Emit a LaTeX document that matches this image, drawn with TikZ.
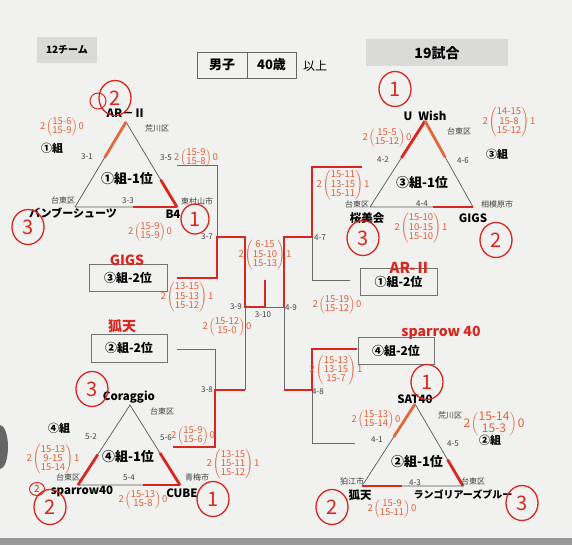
\documentclass[tikz,border=0pt]{standalone}
\usepackage{fontspec}
\setmainfont{Noto Sans CJK JP}
\usetikzlibrary{calc,shapes.geometric}
\definecolor{paper}{HTML}{F1F1EF}
\definecolor{inkred}{HTML}{D9261E}
\definecolor{inkor}{HTML}{E2673A}
\definecolor{pen}{HTML}{E2603A}
\definecolor{lgray}{HTML}{6A6A6A}
\definecolor{hdr}{HTML}{DADAD9}
\newcommand{\scorenote}[3]{#1\hspace{1pt}$\left(\vcenter{\hbox{\def\arraystretch{0.8}\begin{tabular}{@{}c@{}}#2\end{tabular}}}\right)$\hspace{1pt}#3}
\tikzset{
  lbl/.style={font=\fontsize{8}{9}\selectfont, text=black!75, inner sep=0},
  tname/.style={font=\fontsize{11.5}{13}\selectfont\bfseries, inner sep=0},
  grp/.style={font=\fontsize{11}{13}\selectfont\bfseries, inner sep=0},
  rank/.style={font=\fontsize{13}{15}\selectfont\bfseries, inner sep=0},
  rbox/.style={draw=black!55, line width=0.8pt, minimum height=27, inner sep=0, font=\fontsize{12}{14}\selectfont\bfseries},
  hbox/.style={fill=hdr, inner sep=0, font=\fontsize{10}{12}\selectfont\bfseries},
  tri/.style={draw=black!65, line width=0.7pt},
  gline/.style={draw=lgray, line width=0.7pt},
  win/.style={draw=inkred, line width=2.8pt},
  wino/.style={draw=inkor, line width=2.8pt},
  note/.style={text=pen, font=\fontsize{9.5}{10}\selectfont, inner sep=0},
  rk/.style={draw=inkred, line width=1.3pt, ellipse, minimum width=32, minimum height=35, inner sep=0, text=inkred, font=\fontsize{20}{20}\selectfont},
  hand/.style={text=inkred, font=\fontsize{14}{16}\selectfont\bfseries, inner sep=0}
}
\begin{document}
\begin{tikzpicture}[x=1pt,y=-1pt]
\fill[paper] (0,0) rectangle (572,545);
\useasboundingbox (0,0) rectangle (572,545);
\fill[black!40] (0,538) rectangle (572,545);
\fill[black!60] (0,447) ellipse [x radius=8, y radius=22];

% header
\node[hbox, minimum width=60, minimum height=26] (teams) at (67,50) {12チーム};
\node[hbox, minimum width=142, minimum height=27, font=\fontsize{14}{16}\selectfont\bfseries] (games) at (437,53) {19試合};
\node[draw=black!60, line width=0.8pt, minimum width=50, minimum height=26, inner sep=0, font=\fontsize{13}{15}\selectfont\bfseries] (sex) at (222,65) {男子};
\node[draw=black!60, line width=0.8pt, minimum width=49, minimum height=26, inner sep=0, font=\fontsize{13}{15}\selectfont\bfseries] (age) at (271.5,65) {40歳};
\node[font=\fontsize{12}{14}\selectfont, inner sep=0] (ijo) at (315,66) {以上};

% triangle vertices
\coordinate (g1a) at (126,122); \coordinate (g1l) at (75,207); \coordinate (g1r) at (177,207);
\coordinate (g3a) at (425,121); \coordinate (g3l) at (370,207); \coordinate (g3r) at (473,207);
\coordinate (g4a) at (130,405); \coordinate (g4l) at (78,485); \coordinate (g4r) at (180,485);
\coordinate (g2a) at (415,404); \coordinate (g2l) at (362,486); \coordinate (g2r) at (463,486);
\draw[tri] (g1a) -- (g1l) -- (g1r) -- cycle;
\draw[tri] (g3a) -- (g3l) -- (g3r) -- cycle;
\draw[tri] (g4a) -- (g4l) -- (g4r) -- cycle;
\draw[tri] (g2a) -- (g2l) -- (g2r) -- cycle;

% winner marks on triangles
\draw[wino] (g1a) -- ($(g1a)!0.42!(g1l)$);
\draw[win] ($(g1a)!0.68!(g1r)$) -- (g1r);
\draw[win] ($(g1l)!0.57!(g1r)$) -- (g1r);
\draw[win] (g3a) -- ($(g3a)!0.43!(g3l)$);
\draw[wino] (g3a) -- ($(g3a)!0.42!(g3r)$);
\draw[win] ($(g3l)!0.61!(g3r)$) -- (g3r);
\draw[win] ($(g4a)!0.62!(g4l)$) -- (g4l);
\draw[win] ($(g4a)!0.6!(g4r)$) -- (g4r);
\draw[win] ($(g4l)!0.64!(g4r)$) -- (g4r);
\draw[wino] (g2a) -- ($(g2a)!0.4!(g2l)$);
\draw[win] ($(g2a)!0.68!(g2r)$) -- (g2r);
\draw[win] (g2l) -- ($(g2l)!0.4!(g2r)$);

% group 1 labels
\node[tname] (n1a) at (126,113) {AR－Ⅱ};
\node[lbl] (a1) at (157,128) {荒川区};
\node[grp] (grp1) at (52,148) {①組};
\node[lbl] (m31) at (87,157) {3-1};
\node[lbl] (m35) at (166,158) {3-5};
\node[rank] (r1) at (127,179) {①組-1位};
\node[lbl] (b1l) at (63,200) {台東区};
\node[lbl] (m33) at (128,201) {3-3};
\node[lbl] (b1r) at (197,201) {東村山市};
\node[tname, font=\fontsize{11}{13}\selectfont\bfseries] (n1l) at (73,213) {バンブーシューツ};
\node[tname] (n1r) at (173,214) {B4};

% group 3 labels
\node[tname] (n3a) at (425,116) {U\hspace{6pt}Wish};
\node[lbl] (a3) at (459,131) {台東区};
\node[lbl] (m42) at (383,160) {4-2};
\node[lbl] (m46) at (463,161) {4-6};
\node[grp] (grp3) at (497,154) {③組};
\node[rank] (r3) at (422,183) {③組-1位};
\node[lbl] (b3l) at (357,204) {台東区};
\node[lbl] (m44) at (422,204) {4-4};
\node[lbl] (b3r) at (497,204) {相模原市};
\node[tname] (n3l) at (367,218) {桜美会};
\node[tname] (n3r) at (473,218) {GIGS};

% group 4 labels
\node[tname] (n4a) at (129,397) {Coraggio};
\node[lbl] (a4) at (162,411) {台東区};
\node[grp] (grp4) at (59,428) {④組};
\node[lbl] (m52) at (91,437) {5-2};
\node[lbl] (m56) at (166,438) {5-6};
\node[rank] (r4) at (128,457) {④組-1位};
\node[lbl] (b4l) at (68,477) {台東区};
\node[lbl] (m54) at (129,478) {5-4};
\node[lbl] (b4r) at (197,477) {青梅市};
\node[tname] (n4l) at (82,491) {sparrow40};
\node[tname] (n4r) at (182,493) {CUBE};

% group 2 labels
\node[tname] (n2a) at (415,399) {SAT40};
\node[lbl] (a2) at (450,415) {荒川区};
\node[lbl] (m41) at (377,440) {4-1};
\node[lbl] (m45) at (453,444) {4-5};
\node[grp] (grp2) at (490,440) {②組};
\node[rank] (r2) at (417,462) {②組-1位};
\node[lbl] (b2l) at (352,481) {狛江市};
\node[lbl] (m43) at (415,483) {4-3};
\node[lbl] (b2r) at (473,481) {台東区};
\node[tname] (n2l) at (360,495) {狐天};
\node[tname, font=\fontsize{10}{12}\selectfont\bfseries] (n2r) at (463,495) {ランゴリアーズブルー};

% second-place boxes
\node[rbox, minimum width=78] (s3) at (128,278) {③組-2位};
\node[rbox, minimum width=76, minimum height=28] (s2) at (129,348) {②組-2位};
\node[rbox, minimum width=77] (s1) at (398.5,281.5) {①組-2位};
\node[rbox, minimum width=76] (s4) at (396,350.5) {④組-2位};

% bracket coordinates
\coordinate (t1) at (177,165);  \coordinate (k1) at (217,165);
\coordinate (j37) at (217,237); \coordinate (k2) at (217,278); \coordinate (e3) at (177,278);
\coordinate (e2) at (177,349);  \coordinate (k3) at (215,349);
\coordinate (j38) at (215,390); \coordinate (k4) at (215,447); \coordinate (t4) at (173,447);
\coordinate (u37) at (245,237); \coordinate (j39) at (245,307); \coordinate (u38) at (245,390);
\coordinate (mid) at (265,307); \coordinate (top) at (265,280);
\coordinate (j49) at (284,307); \coordinate (u47) at (284,237); \coordinate (u48) at (284,390);
\coordinate (t3) at (362,167);  \coordinate (k5) at (312,167);
\coordinate (j47) at (312,237); \coordinate (k6) at (312,280); \coordinate (e1) at (350,280);
\coordinate (e4) at (357,349);  \coordinate (k7) at (312,349);
\coordinate (j48) at (312,390); \coordinate (k8) at (312,443); \coordinate (t2) at (355,443);

% gray bracket lines
\draw[gline] (t1) -- (k1) -- (j37);
\draw[gline] (e2) -- (k3) -- (j38);
\draw[gline] (u38) -- (j39);
\draw[gline] (mid) -- (j49);
\draw[gline] (j49) -- (u48);
\draw[gline] (j47) -- (k6) -- (e1);
\draw[gline] (j48) -- (k8) -- (t2);

% red winner lines
\draw[win] (e3) -- (k2) -- (j37) -- (u37) -- (j39) -- (mid);
\draw[win] (top) -- (mid);
\draw[win] (t4) -- (k4) -- (j38) -- (u38);
\draw[win] (t3) -- (k5) -- (j47) -- (u47) -- (j49);
\draw[win] (e4) -- (k7) -- (j48) -- (u48);

% match labels
\node[lbl] (m37) at (207,237) {3-7};
\node[lbl] (m38) at (207,390) {3-8};
\node[lbl] (m39) at (236,307) {3-9};
\node[lbl] (m310) at (263,315) {3-10};
\node[lbl] (m49) at (291,308) {4-9};
\node[lbl] (m47) at (320,238) {4-7};
\node[lbl] (m48) at (318,392) {4-8};

% handwritten names
\node[hand] (h1) at (127,260) {GIGS};
\node[hand] (h2) at (122,326) {狐天};
\node[hand, font=\fontsize{15}{17}\selectfont\bfseries] (h3) at (410,268) {AR-Ⅱ};
\node[hand] (h4) at (441,333) {sparrow 40};

% circled ranks
\node[rk] (c1a) at (115,98) {2};
\node[draw=inkred, line width=1pt, circle, minimum size=16] (c1b) at (98,101) {};
\node[rk, minimum width=28, minimum height=30] (c1r) at (195,219) {1};
\node[rk] (c1l) at (28,227) {3};
\node[rk] (c3a) at (395,89) {1};
\node[rk] (c3r) at (496,240) {2};
\node[rk] (c3l) at (363,238) {3};
\node[rk] (c4a) at (92,389) {3};
\node[rk] (c4l) at (50,507) {2};
\node[rk, minimum width=15, minimum height=13, font=\fontsize{10}{10}\selectfont, line width=1pt] (c4s) at (37,489) {2};
\node[rk] (c4r) at (213,499) {1};
\node[rk] (c2a) at (427,382) {1};
\node[rk] (c2l) at (332,507) {2};
\node[rk] (c2r) at (522,503) {3};

% score notes
\node[note] (sc1) at (62,127) {\scorenote{2}{15-6\\15-9}{0}};
\node[note] (sc2) at (196,158) {\scorenote{2}{15-9\\15-8}{0}};
\node[note] (sc3) at (150,232) {\scorenote{2}{15-9\\15-9}{0}};
\node[note] (sc4) at (387,138) {\scorenote{2}{15-5\\15-12}{0}};
\node[note] (sc5) at (509,122) {\scorenote{2}{14-15\\15-8\\15-12}{1}};
\node[note] (sc6) at (343,185) {\scorenote{2}{15-11\\13-15\\15-11}{1}};
\node[note] (sc7) at (421,228) {\scorenote{2}{15-10\\10-15\\15-10}{1}};
\node[note] (sc8) at (265,255) {\scorenote{2}{6-15\\15-10\\15-13}{1}};
\node[note] (sc9) at (187,297) {\scorenote{2}{13-15\\15-13\\15-12}{1}};
\node[note] (sc10) at (227,327) {\scorenote{2}{15-12\\15-0}{0}};
\node[note] (sc11) at (337,305) {\scorenote{2}{15-19\\15-12}{0}};
\node[note] (sc12) at (193,436) {\scorenote{2}{15-9\\15-6}{0}};
\node[note] (sc13) at (233,464) {\scorenote{2}{13-15\\15-11\\15-12}{1}};
\node[note] (sc14) at (53,459) {\scorenote{2}{15-13\\9-15\\15-14}{1}};
\node[note] (sc15) at (143,500) {\scorenote{2}{15-13\\15-8}{0}};
\node[note] (sc16) at (336,370) {\scorenote{2}{15-13\\13-15\\15-7}{1}};
\node[note] (sc17) at (376,420) {\scorenote{2}{15-13\\15-14}{0}};
\node[note, font=\fontsize{12}{13}\selectfont] (sc18) at (494,424) {\scorenote{2}{15-14\\15-3}{0}};
\node[note] (sc19) at (392,509) {\scorenote{2}{15-9\\15-11}{0}};
\end{tikzpicture}
\end{document}
